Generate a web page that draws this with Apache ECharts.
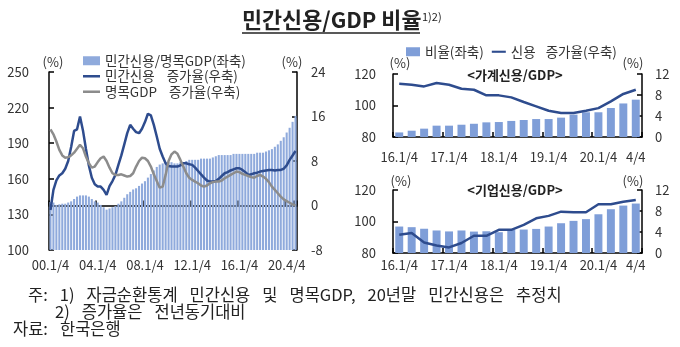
<!DOCTYPE html>
<html><head><meta charset="utf-8">
<script src="https://cdn.jsdelivr.net/npm/echarts@6/dist/echarts.min.js"></script>
<style>html,body{margin:0;padding:0;background:#fff}#c{width:680px;height:347px}</style>
</head><body><div id="c"></div>
<script>
// ---------- data ----------
// Left chart: quarterly 2000Q1 - 2020Q4
const leftQuarters = [];
for (let y = 0; y <= 20; y++) for (let q = 1; q <= 4; q++) leftQuarters.push(String(y).padStart(2,'0') + '.' + q + '/4');
const leftTickLabels = ['00.1/4','04.1/4','08.1/4','12.1/4','16.1/4','20.4/4'];

const creditToGdp = [140.5,140,138,138.5,139,139,140,141,143,145,146,146,146,145,143,141,140,138,136,134,
  135,136,137,139,141,144,147,149,151,152,154,156,158,161,164,167,170,172,173,174,
  174,174,173,173,174,174,175,176,176,176,176,177,177,177,177,178,179,180,180,180,
  180,180,181,181,181,181,181,181,181,181,182,182,182,183,184,185,187,189,192,195,
  199,203,208,213];
const creditGrowth = [-0.8,2.8,4.5,5.4,5.8,6.6,8.0,10.5,13.4,13.7,16.0,13.5,10.2,7.2,5.0,3.8,3.4,3.4,2.8,1.9,
  3.5,4.4,5.5,7.3,9.0,11.0,13.0,14.5,13.8,13.2,13.0,13.8,15.0,16.5,16.2,14.5,12.4,10.2,8.8,7.6,
  7.1,7.0,7.0,7.0,7.2,7.6,7.6,7.4,7.3,6.8,6.2,5.6,5.0,4.5,4.3,4.3,4.4,4.8,5.3,5.8,
  6.0,6.3,6.5,6.7,6.7,6.4,6.0,5.5,5.6,5.8,5.9,6.1,6.2,6.3,6.4,6.4,6.3,6.4,6.4,6.6,
  7.2,8.2,9.0,9.8];
const gdpGrowth = [13.7,12.8,11.5,10.0,9.0,8.6,8.7,9.0,9.5,10.2,10.9,10.3,8.8,7.6,6.8,7.0,7.8,8.5,8.8,8.0,
  6.8,5.8,5.5,5.5,5.6,5.4,5.2,5.3,5.8,7.0,8.0,8.6,8.5,8.0,7.0,5.6,4.4,3.2,3.4,5.5,
  8.0,9.2,9.7,9.3,8.2,7.0,5.8,5.0,4.6,4.3,4.0,3.6,3.4,3.6,4.0,4.2,4.3,4.3,4.5,4.9,
  5.2,5.5,5.8,6.1,6.0,5.7,5.5,5.3,5.1,5.0,5.3,5.5,5.2,4.8,4.2,3.4,2.8,2.2,1.6,1.1,
  0.8,0.5,0.2,0.0];

// Right charts: quarterly 2016Q1 - 2020Q4
const rightQuarters = [];
for (let y = 16; y <= 20; y++) for (let q = 1; q <= 4; q++) rightQuarters.push(y + '.' + q + '/4');
const rightTickLabels = {0:'16.1/4',4:'17.1/4',8:'18.1/4',12:'19.1/4',16:'20.1/4',19:'4/4'};

const householdRatio = [82.9,84.0,85.3,87.2,87.2,87.8,88.4,89.3,89.5,90.2,90.8,91.4,91.4,92.3,94.2,95.7,95.7,98.4,101.3,103.7];
const householdGrowth = [10.15,9.96,9.64,10.28,9.96,9.2,9.0,7.93,7.93,7.55,6.66,5.84,5.0,4.56,4.56,5.0,5.5,6.8,8.2,9.0];
const corporateRatio = [96.8,96.4,95.4,94.3,93.7,94.3,93.6,93.8,93.2,94.7,94.9,95.3,96.8,98.9,100.4,101.5,104.6,107.8,110.1,111.4];
const corporateGrowth = [3.47,3.79,2.0,1.44,1.06,1.9,3.28,3.28,4.41,4.41,5.36,6.6,7.07,7.88,7.77,7.77,9.28,9.28,9.77,10.1];

// ---------- styles ----------
const FONT = '"Noto Sans CJK KR", "Noto Sans", sans-serif';
const TXT = '#333333';
const BAR_L = '#8FAADC', BAR_R = '#7F9ED8', BLUE = '#2E4C8E', GRAY = '#8C8C8C';
const AX = {color:'#000', width:1.5};
const LINE_ICON = 'path://M0,0 L20,0 L20,3 L0,3 Z';
const wide = (s) => s.split(' ').join('{sp| }');

function yAx(gridIndex, min, max, interval, position, margin) {
  return {type:'value', gridIndex, min, max, interval, position,
    axisLine:{show:true, lineStyle:AX},
    axisTick:{show:true, inside:true, length:5, lineStyle:AX},
    axisLabel:{color:TXT, fontSize:13, fontFamily:FONT, margin},
    splitLine:{show:false}};
}
function xAx(gridIndex, data, tickInt, labelInt, formatter, margin) {
  return {type:'category', gridIndex, data, boundaryGap:true,
    axisLine:{show:true, lineStyle:AX},
    axisTick:{show:true, inside:true, length:5, interval:tickInt, lineStyle:AX},
    axisLabel:{interval:labelInt, formatter, color:TXT, fontSize:13, fontFamily:FONT, margin, showMaxLabel:true},
    splitLine:{show:false}};
}

const chart = echarts.init(document.getElementById('c'));
const txt = (x, y, text, extra) => ({type:'text', x, y, style:Object.assign({text, fill:TXT, font:'13px ' + FONT}, extra || {})});
const note = (x, y, text) => ({type:'text', x, y, style:{text:wide(text), fill:'#222', font:'16.5px ' + FONT,
  verticalAlign:'middle', rich:{sp:{width:12, font:'16.5px ' + FONT}}}});

chart.setOption({
  animation:false,
  backgroundColor:'#fff',
  grid:[
    {left:49, top:72, width:248, height:178},
    {left:393, top:74, width:249, height:63},
    {left:393, top:190, width:249, height:63}
  ],
  xAxis:[
    xAx(0, leftQuarters, 15, 15, (v, i) => leftTickLabels[i / 16], 9),
    xAx(1, rightQuarters, (i) => i % 4 === 0, (i) => i % 4 === 0 || i === 19, (v, i) => rightTickLabels[i], 14),
    xAx(2, rightQuarters, (i) => i % 4 === 0, (i) => i % 4 === 0 || i === 19, (v, i) => rightTickLabels[i], 6)
  ],
  yAxis:[
    yAx(0, 100, 250, 30, 'left', 20),
    yAx(0, -8, 24, 8, 'right', 14),
    yAx(1, 80, 120, 20, 'left', 17),
    yAx(1, 0, 12, 4, 'right', 13),
    yAx(2, 80, 120, 20, 'left', 17),
    yAx(2, 0, 12, 4, 'right', 13)
  ],
  legend:[
    {data:[{name:'민간신용/명목GDP(좌축)', icon:'rect'},
           {name:'민간신용 증가율(우축)', icon:LINE_ICON},
           {name:'명목GDP 증가율(우축)', icon:LINE_ICON}],
     orient:'vertical', left:83, top:54, padding:0, itemWidth:17, itemHeight:9, itemGap:2,
     formatter:wide,
     textStyle:{fontSize:13.5, color:TXT, fontFamily:FONT, lineHeight:13, rich:{sp:{width:12}}}},
    {data:[{name:'비율(좌축)', icon:'rect'}, {name:'신용 증가율(우축)', icon:LINE_ICON}],
     orient:'horizontal', left:406, top:45, padding:0, itemWidth:14, itemHeight:9, itemGap:8,
     formatter:wide,
     textStyle:{fontSize:13.5, color:TXT, fontFamily:FONT, rich:{sp:{width:10}}}}
  ],
  series:[
    {name:'민간신용/명목GDP(좌축)', type:'bar', xAxisIndex:0, yAxisIndex:0, data:creditToGdp,
     itemStyle:{color:BAR_L}, barCategoryGap:'30%'},
    {name:'민간신용 증가율(우축)', type:'line', xAxisIndex:0, yAxisIndex:1, data:creditGrowth,
     symbol:'none', lineStyle:{color:BLUE, width:2.5}, itemStyle:{color:BLUE}, z:3},
    {name:'명목GDP 증가율(우축)', type:'line', xAxisIndex:0, yAxisIndex:1, data:gdpGrowth,
     symbol:'none', lineStyle:{color:GRAY, width:2.5}, itemStyle:{color:GRAY}, z:3},
    {name:'비율(좌축)', type:'bar', xAxisIndex:1, yAxisIndex:2, data:householdRatio,
     itemStyle:{color:BAR_R}, barCategoryGap:'36%'},
    {name:'신용 증가율(우축)', type:'line', xAxisIndex:1, yAxisIndex:3, data:householdGrowth,
     symbol:'none', lineStyle:{color:BLUE, width:2.5}, itemStyle:{color:BLUE}, z:3},
    {name:'비율(좌축)', type:'bar', xAxisIndex:2, yAxisIndex:4, data:corporateRatio,
     itemStyle:{color:BAR_R}, barCategoryGap:'36%'},
    {name:'신용 증가율(우축)', type:'line', xAxisIndex:2, yAxisIndex:5, data:corporateGrowth,
     symbol:'none', lineStyle:{color:BLUE, width:2.5}, itemStyle:{color:BLUE}, z:3}
  ],
  graphic:[
    txt(242, 20, '민간신용/GDP 비율', {font:'bold 21.8px ' + FONT, fill:'#222', verticalAlign:'middle'}),
    txt(422, 17, '1)2)', {font:'11px ' + FONT, fill:'#222', verticalAlign:'middle'}),
    {type:'line', shape:{x1:242, y1:33, x2:420, y2:33}, style:{stroke:'#222', lineWidth:1.3}},
    txt(53, 62, '(%)', {align:'center', verticalAlign:'middle'}),
    txt(292, 62, '(%)', {align:'center', verticalAlign:'middle'}),
    txt(400, 63, '(%)', {align:'center', verticalAlign:'middle'}),
    txt(633, 63, '(%)', {align:'center', verticalAlign:'middle'}),
    txt(401, 181, '(%)', {align:'center', verticalAlign:'middle'}),
    txt(633, 181, '(%)', {align:'center', verticalAlign:'middle'}),
    txt(515, 75, '<가계신용/GDP>', {align:'center', verticalAlign:'middle', font:'bold 13px ' + FONT, fill:'#222'}),
    txt(515, 190, '<기업신용/GDP>', {align:'center', verticalAlign:'middle', font:'bold 13px ' + FONT, fill:'#222'}),
    note(28, 294.5, '주: 1) 자금순환통계 민간신용 및 명목GDP, 20년말 민간신용은 추정치'),
    note(55, 311.5, '2) 증가율은 전년동기대비'),
    note(13, 329, '자료: 한국은행')
  ]
});
</script></body></html>
